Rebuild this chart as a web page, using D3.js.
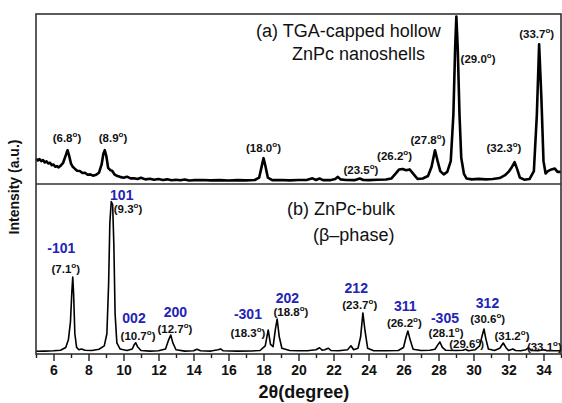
<!DOCTYPE html>
<html>
<head>
<meta charset="utf-8">
<script src="https://cdn.jsdelivr.net/npm/d3@7"></script>
<style>
  body { margin: 0; background: #fff; }
  svg { display: block; font-family: Arial, "Liberation Sans", sans-serif; }
</style>
</head>
<body>
<div id="chart"></div>
<script>
// (a) TGA-capped hollow ZnPc nanoshells : [2theta, intensity]
var topSpectrum = [
  [5.0,13.5],[5.1,12.4],[5.2,13.2],[5.3,12.0],[5.4,12.6],[5.5,11.2],[5.6,11.9],[5.7,10.6],[5.8,11.0],
  [5.9,9.6],[6.0,10.0],[6.1,8.6],[6.2,9.0],[6.3,8.2],[6.4,9.2],
  [6.55,11.0],[6.7,15.5],[6.8,18.6],[6.9,15.0],[7.0,10.5],[7.1,8.6],[7.2,7.6],[7.35,6.2],[7.5,6.0],[7.65,4.8],[7.8,5.0],
  [7.95,3.8],[8.1,4.0],[8.25,3.2],[8.4,3.6],[8.6,5.0],[8.75,10.0],[8.85,16.5],[8.93,18.6],[9.02,15.0],[9.12,8.0],
  [9.25,6.5],[9.35,6.2],[9.5,3.8],[9.65,3.0],[9.8,2.5],[10.0,2.0],[10.2,2.6],[10.4,1.6],[10.6,1.7],[10.8,1.2],[11.0,2.0],[11.25,1.0],[11.5,1.4],
  [11.75,0.8],[12.0,1.2],[12.25,0.6],[12.5,1.0],[12.75,0.5],[13.0,0.8],[13.25,0.4],[13.5,0.9],[13.75,0.3],[14.0,0.5],[14.5,0.6],[15.0,0.4],[15.5,0.5],
  [16.0,0.3],[16.5,0.5],[17.0,0.4],[17.5,0.6],[17.75,2.0],[17.9,9.0],[18.0,13.8],[18.1,9.5],
  [18.25,2.0],[18.5,0.5],[19.0,0.6],[19.5,0.4],[20.0,0.6],[20.5,0.7],[20.8,1.6],[21.0,0.6],
  [21.2,1.5],[21.4,0.5],[21.8,0.5],[22.1,1.2],[22.25,2.5],[22.4,1.0],[22.7,0.6],[23.2,0.5],
  [23.5,1.5],[23.7,0.6],[24.0,0.5],[24.5,0.8],[25.0,0.9],[25.3,1.5],[25.55,4.5],[25.75,7.0],
  [25.95,7.3],[26.15,6.5],[26.35,7.0],[26.55,4.5],[26.8,1.3],[27.1,1.5],[27.4,3.0],[27.6,8.5],
  [27.8,18.6],[27.95,12.0],[28.1,6.0],[28.3,4.0],[28.5,5.5],[28.7,12.0],[28.85,40],[28.95,80],
  [29.02,99.4],[29.1,80],[29.2,40],[29.3,14],[29.45,4.5],[29.6,1.5],[29.9,1.0],[30.3,1.3],
  [30.7,1.0],[31.1,1.2],[31.5,1.8],[31.8,3.5],[32.0,5.5],[32.2,8.5],[32.35,11.4],[32.5,7.0],
  [32.65,2.0],[32.9,0.8],[33.2,1.2],[33.45,6.0],[33.62,40],[33.75,82.6],[33.88,50],[34.0,12],
  [34.12,4.5],[34.25,6.0],[34.45,7.0],[34.65,7.5],[34.8,5.5],[35.0,5.5]
];

// (b) ZnPc-bulk (beta-phase) : [2theta, intensity]
var bottomSpectrum = [
  [5.0,0.5],[5.5,0.6],[6.0,0.8],[6.4,1.2],[6.7,3.0],[6.85,8.0],[6.97,20],[7.05,40],
  [7.1,49.3],[7.15,38],[7.22,12],[7.32,3.0],[7.45,1.5],[7.6,2.0],[7.8,1.2],[8.2,1.0],
  [8.6,1.8],[8.9,4.0],[9.05,12],[9.15,45],[9.22,85],[9.3,99],[9.38,97],[9.45,70],
  [9.52,25],[9.62,6],[9.8,2.0],[10.2,1.0],[10.5,2.0],[10.62,5.0],[10.7,6.1],[10.8,3.5],
  [11.0,1.0],[11.5,0.6],[12.0,0.8],[12.4,2.0],[12.58,8.0],[12.7,11.2],[12.82,6.0],[13.0,1.5],
  [13.5,0.6],[14.0,0.8],[14.2,1.8],[14.4,0.8],[15.0,0.6],[15.4,1.5],[15.55,2.0],[15.7,0.8],
  [16.5,0.6],[17.3,0.7],[17.8,1.0],[18.1,4.0],[18.27,14.5],[18.4,5.0],[18.55,3.5],[18.68,15],
  [18.78,21.7],[18.9,10],[19.05,2.5],[19.5,1.0],[20.0,0.8],[20.5,0.8],[21.0,1.5],[21.2,2.8],
  [21.35,1.2],[21.5,1.5],[21.7,2.5],[21.85,1.0],[22.3,0.8],[22.8,1.5],[23.0,4.1],[23.15,1.5],
  [23.4,2.5],[23.55,10],[23.68,25.7],[23.8,14],[23.95,2.5],[24.3,0.8],[25.0,0.8],[25.7,1.0],
  [26.0,3.0],[26.15,10],[26.25,13.8],[26.38,8.0],[26.55,1.8],[27.0,1.0],[27.5,1.2],[27.8,1.8],
  [27.95,4.5],[28.08,6.6],[28.22,3.0],[28.4,1.2],[29.0,1.0],[29.4,1.2],[29.55,1.8],[29.7,0.8],
  [30.1,1.5],[30.35,4.0],[30.5,11],[30.6,15.1],[30.7,9.0],[30.85,2.0],[31.2,1.0],[31.5,2.5],
  [31.7,5.9],[31.85,3.0],[32.0,1.0],[32.25,2.0],[32.4,1.0],[32.7,0.8],[33.0,1.5],[33.15,2.8],
  [33.3,1.0],[33.7,0.8],[34.0,1.5],[34.2,0.8],[35.0,0.8]
];

// peak angle labels, anchored at [2theta, intensity]
var topPeakLabels = [
  ["6.8",6.77,23.4],["8.9",9.4,23.4],["18.0",18.0,17.5],["23.5",23.57,4.5],["26.2",25.49,12.6],
  ["27.8",27.4,22.2],["29.0",30.26,71.4],["32.3",31.74,17.5],["33.7",33.61,86.4]
];
var bottomPeakLabels = [
  ["7.1",6.7,51.8],["9.3",10.26,91.2],["10.7",10.83,7.9],["12.7",12.94,12.3],["18.3",17.11,10.1],
  ["18.8",19.57,23.7],["23.7",23.5,28.1],["26.2",26.05,16.6],["28.1",28.43,10.1],["29.6",29.61,2.4],
  ["30.6",30.81,19.4],["31.2",32.2,8.2],["33.1",34.05,0.9]
];
var hklLabels = [
  ["-101",6.45,65.3],["101",9.9,100],["002",10.6,18.9],["200",12.97,22.8],["-301",17.11,21.5],
  ["202",19.37,32.2],["212",23.3,38.6],["311",26.1,27.2],["-305",28.37,19.3],["312",30.8,29.0]
];
var xTicks = [6,8,10,12,14,16,18,20,22,24,26,28,30,32,34];
var xMinorTicks = [5,7,9,11,13,15,17,19,21,23,25,27,29,31,33,35];

var W = 562, H = 403;
var pLeft = 36, pRight = 561, pTop = 14, pMid = 184, pBottom = 354;

var svg = d3.select("#chart").append("svg").attr("width", W).attr("height", H);

var x = d3.scaleLinear().domain([5, 35]).range([pLeft, pRight]);
var yTop = d3.scaleLinear().domain([0, 100]).range([181, 15.5]);
var yBot = d3.scaleLinear().domain([0, 100]).range([352, 200]);

// spectra
var lineTop = d3.line().x(function(d){ return x(d[0]); }).y(function(d){ return yTop(d[1]); });
var lineBot = d3.line().x(function(d){ return x(d[0]); }).y(function(d){ return yBot(d[1]); });

svg.append("path").datum(topSpectrum)
  .attr("d", lineTop).attr("fill", "none").attr("stroke", "#000")
  .attr("stroke-width", 2.6).attr("stroke-linejoin", "round");
svg.append("path").datum(bottomSpectrum)
  .attr("d", lineBot).attr("fill", "none").attr("stroke", "#000")
  .attr("stroke-width", 1.6).attr("stroke-linejoin", "round");

// frame + divider
svg.append("rect").attr("x", pLeft).attr("y", pTop)
  .attr("width", pRight - pLeft).attr("height", pBottom - pTop)
  .attr("fill", "none").attr("stroke", "#333").attr("stroke-width", 1.6);
svg.append("line").attr("x1", pLeft).attr("x2", pRight).attr("y1", pMid).attr("y2", pMid)
  .attr("stroke", "#333").attr("stroke-width", 1.6);

// x axis
var xAxis = d3.axisBottom(x).tickValues(xTicks).tickSize(7).tickPadding(4).tickFormat(d3.format("d"));
var gx = svg.append("g").attr("transform", "translate(0," + pBottom + ")").call(xAxis);
gx.select(".domain").remove();
gx.selectAll("line").attr("stroke", "#222").attr("stroke-width", 1.4);
gx.selectAll("text").attr("font-size", 14).attr("font-weight", "bold").attr("fill", "#111")
  .attr("font-family", "Arial, 'Liberation Sans', sans-serif");
var gxm = svg.append("g").attr("transform", "translate(0," + pBottom + ")")
  .call(d3.axisBottom(x).tickValues(xMinorTicks).tickSize(4).tickFormat(""));
gxm.select(".domain").remove();
gxm.selectAll("line").attr("stroke", "#222").attr("stroke-width", 1.4);

// axis titles
svg.append("text").attr("x", 304).attr("y", 398).attr("text-anchor", "middle")
  .attr("font-size", 18).attr("font-weight", "bold").attr("fill", "#111")
  .text("2\u03b8(degree)");

svg.append("text").attr("transform", "translate(19,187) rotate(-90)")
  .attr("text-anchor", "middle").attr("font-size", 14).attr("font-weight", "bold")
  .attr("fill", "#111").text("Intensity (a.u.)");

// panel titles
svg.append("text").attr("x", 256).attr("y", 37).attr("font-size", 18).attr("fill", "#111")
  .text("(a) TGA-capped hollow");
svg.append("text").attr("x", 292).attr("y", 60).attr("font-size", 18).attr("fill", "#111")
  .text("ZnPc nanoshells");
svg.append("text").attr("x", 287).attr("y", 215).attr("font-size", 18).attr("fill", "#111")
  .text("(b) ZnPc-bulk");
svg.append("text").attr("x", 313).attr("y", 241).attr("font-size", 18).attr("fill", "#111")
  .text("(\u03b2\u2013phase)");

// peak angle labels
function angleLabel(g, d, yScale) {
  var t = g.append("text").attr("x", x(d[1])).attr("y", yScale(d[2]))
    .attr("text-anchor", "middle").attr("font-size", 11.5).attr("font-weight", "bold")
    .attr("fill", "#111");
  t.append("tspan").text("(" + d[0]);
  t.append("tspan").attr("font-size", 8).attr("dy", -5).text("o");
  t.append("tspan").attr("dy", 5).text(")");
}
var gl = svg.append("g");
topPeakLabels.forEach(function(d){ angleLabel(gl, d, yTop); });
bottomPeakLabels.forEach(function(d){ angleLabel(gl, d, yBot); });

svg.append("g").selectAll("text").data(hklLabels).enter().append("text")
  .attr("x", function(d){ return x(d[1]); })
  .attr("y", function(d){ return yBot(d[2]); })
  .attr("text-anchor", "middle").attr("font-size", 14).attr("font-weight", "bold")
  .attr("fill", "#2323b5").text(function(d){ return d[0]; });
</script>
</body>
</html>
